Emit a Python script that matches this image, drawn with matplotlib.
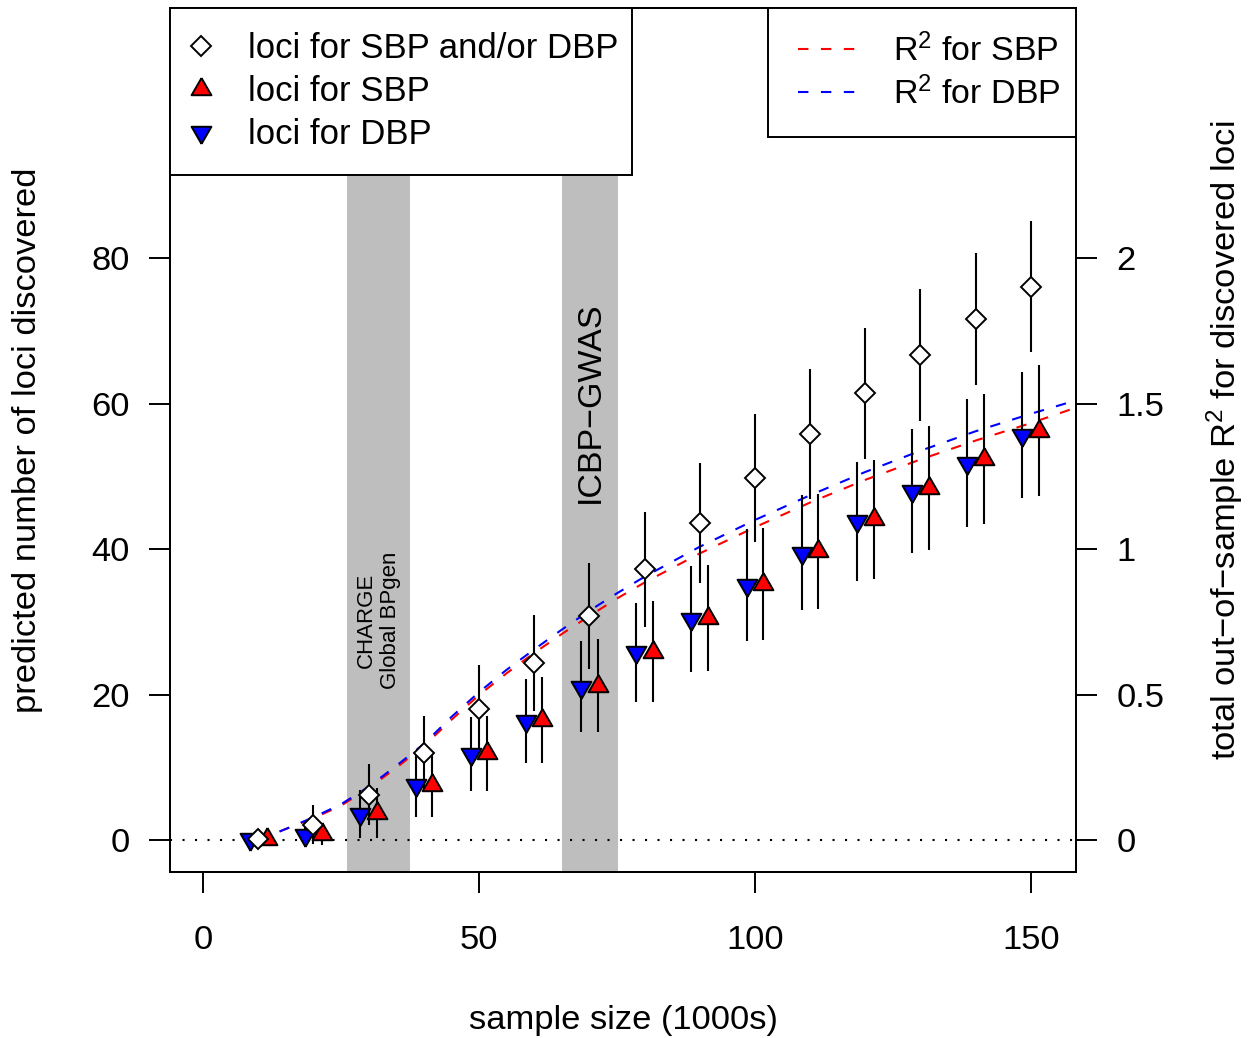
import numpy as np
import matplotlib
matplotlib.use("Agg")
import matplotlib.pyplot as plt
from matplotlib.lines import Line2D
from matplotlib.legend_handler import HandlerLine2D

plt.rcParams['font.family'] = ['Liberation Sans', 'DejaVu Sans']
plt.rcParams['mathtext.fontset'] = 'custom'
plt.rcParams['mathtext.rm'] = 'Liberation Sans'
plt.rcParams['mathtext.it'] = 'Liberation Sans:italic'

# sample sizes (1000s)
n = [10, 20, 30, 40, 50, 60, 70, 80, 90, 100, 110, 120, 130, 140, 150]

# predicted loci, SBP and/or DBP
loci_any = [0.2, 2.1, 6.2, 11.9, 18.0, 24.4, 30.8, 37.2, 43.6, 49.8, 55.8, 61.4, 66.7, 71.6, 76.1]
loci_any_err = [0.4, 2.7, 4.2, 5.1, 6.1, 6.6, 7.3, 7.9, 8.3, 8.8, 8.9, 9.0, 9.1, 9.1, 9.0]

# predicted loci, SBP
loci_sbp = [0.1, 0.8, 3.7, 7.6, 11.9, 16.5, 21.2, 25.9, 30.5, 35.2, 39.7, 44.1, 48.4, 52.4, 56.3]
loci_sbp_err = [0.3, 1.5, 3.4, 4.4, 5.2, 5.9, 6.4, 6.9, 7.3, 7.7, 7.9, 8.2, 8.5, 8.9, 9.0]

# predicted loci, DBP
loci_dbp = [0.1, 0.7, 3.6, 7.5, 11.8, 16.4, 21.1, 25.8, 30.4, 35.1, 39.5, 43.8, 48.0, 51.9, 55.7]
loci_dbp_err = [0.3, 1.4, 3.3, 4.3, 5.1, 5.8, 6.3, 6.8, 7.3, 7.7, 7.9, 8.2, 8.5, 8.8, 8.7]

# total out-of-sample R^2 curves
r2_n = [10, 15, 20, 25, 30, 35, 40, 45, 50, 55, 60, 65, 70, 75, 80, 90, 100, 110, 120, 130, 140, 150, 158]
r2_sbp = [0.0, 0.038, 0.075, 0.118, 0.178, 0.248, 0.323, 0.413, 0.498, 0.573, 0.643, 0.708, 0.770,
          0.830, 0.885, 0.985, 1.075, 1.160, 1.238, 1.308, 1.373, 1.433, 1.485]
r2_dbp = [0.0, 0.038, 0.078, 0.123, 0.183, 0.255, 0.330, 0.423, 0.508, 0.585, 0.655, 0.723, 0.788,
          0.848, 0.905, 1.008, 1.100, 1.185, 1.265, 1.338, 1.405, 1.465, 1.510]

# existing studies (sample size ranges)
study_lo = [26.1, 65.0]
study_hi = [37.5, 75.2]
study_labels = ['CHARGE\nGlobal BPgen', 'ICBP\u2212GWAS']
study_label_y = [30.2, 60.2]
study_label_size = [16, 24.5]

fs = 24.8
lw = 1.4
ylim = (-4.4, 114.4)
r2_scale = 40.0

# triangles with centroid at the data point (like R pch 24/25)
tri_up = [(0, 1.555), (1.3468, -0.7776), (-1.3468, -0.7776), (0, 1.555)]
tri_dn = [(x, -y) for x, y in tri_up]

fig = plt.figure(figsize=(12.48, 10.38), dpi=100)
ax2 = fig.add_axes([170 / 1248, 1 - 872 / 1038, 906 / 1248, 864 / 1038])
ax = ax2.twinx()
ax.yaxis.tick_left()
ax2.yaxis.tick_right()
ax.set_zorder(ax2.get_zorder() + 1)
ax.patch.set_visible(False)

ax2.set_xlim(-6, 158.2)
ax.set_ylim(*ylim)
ax2.set_ylim(ylim[0] / r2_scale, ylim[1] / r2_scale)

# study bands and R^2 curves (behind)
for lo, hi in zip(study_lo, study_hi):
    ax2.axvspan(lo, hi, color='#BEBEBE', lw=0, zorder=0)
l_sbp, = ax2.plot(r2_n, r2_sbp, color='red', lw=1.5, dashes=(5, 6), zorder=2)
l_dbp, = ax2.plot(r2_n, r2_dbp, color='blue', lw=1.5, dashes=(5, 6), zorder=2)

for lo, hi, lab, yy, sz in zip(study_lo, study_hi, study_labels, study_label_y, study_label_size):
    ax.text((lo + hi) / 2, yy, lab, rotation=90, ha='center', va='center',
            fontsize=sz, multialignment='center', zorder=2)

ax.axhline(0, color='black', lw=1.5, ls=(0, (1, 5)), zorder=1)

n_arr = np.array(n)
off = 1.5
ax.errorbar(n_arr - off, loci_dbp, yerr=loci_dbp_err, fmt='none', ecolor='black', elinewidth=1.5, capsize=0, zorder=3)
ax.errorbar(n_arr + off, loci_sbp, yerr=loci_sbp_err, fmt='none', ecolor='black', elinewidth=1.5, capsize=0, zorder=3)
ax.errorbar(n_arr, loci_any, yerr=loci_any_err, fmt='none', ecolor='black', elinewidth=1.5, capsize=0, zorder=3)

tri_ms = 16.5
dia_ms = 10.5
ax.plot(n_arr - off, loci_dbp, ls='none', marker=tri_dn, ms=tri_ms, mfc='blue', mec='black', mew=lw, zorder=4)
ax.plot(n_arr + off, loci_sbp, ls='none', marker=tri_up, ms=tri_ms, mfc='red', mec='black', mew=lw, zorder=4)
ax.plot(n_arr, loci_any, ls='none', marker='D', ms=dia_ms, mfc='white', mec='black', mew=lw, zorder=5)

# axes styling
for a in (ax, ax2):
    for s in a.spines.values():
        s.set_linewidth(lw)
ax2.set_xticks([0, 50, 100, 150])
ax.set_yticks([0, 20, 40, 60, 80])
ax2.set_yticks([0, 0.5, 1, 1.5, 2])
ax2.set_yticklabels(['0', '0.5', '1', '1.5', '2'])
ax2.tick_params(axis='x', direction='out', length=15, width=lw, labelsize=fs, pad=23)
ax.tick_params(axis='y', direction='out', length=15, width=lw, labelsize=fs, pad=14)
ax2.tick_params(axis='y', direction='out', length=15, width=lw, labelsize=fs, pad=14)

fig.text(623 / 1248, 1 - 1020 / 1038, 'sample size (1000s)', ha='center', va='center', fontsize=fs)
fig.text(28 / 1248, 1 - 440 / 1038, 'predicted number of loci discovered', rotation=90,
         ha='center', va='center', fontsize=fs)
fig.text(1225 / 1248, 1 - 440 / 1038, 'total out\u2212of\u2212sample R$^2$ for discovered loci', rotation=90,
         ha='center', va='center', fontsize=fs)

# legends
h_any = Line2D([], [], ls='none', marker='D', ms=dia_ms, mfc='white', mec='black', mew=lw)
h_sbp = Line2D([], [], ls='none', marker=tri_up, ms=tri_ms, mfc='red', mec='black', mew=lw)
h_dbp = Line2D([], [], ls='none', marker=tri_dn, ms=tri_ms, mfc='blue', mec='black', mew=lw)
leg1 = ax.legend([h_any, h_sbp, h_dbp],
                 ['loci for SBP and/or DBP', 'loci for SBP', 'loci for DBP'],
                 loc='upper left', bbox_to_anchor=(0, 0, (632 - 170) / 906, 1), mode='expand',
                 borderaxespad=0, fontsize=25,
                 fancybox=False, edgecolor='black', framealpha=1, borderpad=0.7,
                 handlelength=0.39, handletextpad=1.16, labelspacing=0.285)
leg1.get_frame().set_linewidth(lw)
leg1.set_zorder(10)
ax.add_artist(leg1)

hl_sbp = Line2D([], [], color='red', lw=1.5, dashes=(5, 6))
hl_dbp = Line2D([], [], color='blue', lw=1.5, dashes=(5, 6))
leg2 = ax.legend([hl_sbp, hl_dbp], ['R$^2$ for SBP', 'R$^2$ for DBP'],
                 loc='upper right', bbox_to_anchor=((768 - 170) / 906, 0, (1076 - 768) / 906, 1),
                 mode='expand', borderaxespad=0, fontsize=24.5,
                 fancybox=False, edgecolor='black', framealpha=1, borderpad=0.75,
                 handlelength=1.94, handletextpad=0.985, labelspacing=0.25,
                 handler_map={hl_sbp: HandlerLine2D(numpoints=2, marker_pad=0.13),
                              hl_dbp: HandlerLine2D(numpoints=2, marker_pad=0.13)})
leg2.get_frame().set_linewidth(lw)
leg2.set_zorder(10)

fig.savefig('out.png', dpi=100)
